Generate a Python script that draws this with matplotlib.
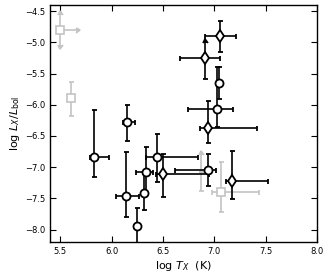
import matplotlib
matplotlib.use("Agg")
import matplotlib.pyplot as plt
import numpy as np

# Black circles: log T, log Lx/Lbol, xerr lo/hi, yerr lo/hi
circ_x = [5.83, 6.152, 6.142, 6.25, 6.318, 6.337, 6.445, 6.943, 7.03, 7.05]
circ_y = [-6.84, -6.279, -7.465, -7.946, -7.417, -7.08, -6.84, -7.048, -6.06, -5.654]
circ_xlo = [0.04, 0.04, 0.10, 0.03, 0.02, 0.10, 0.11, 0.33, 0.29, 0.02]
circ_xhi = [0.14, 0.08, 0.12, 0.03, 0.02, 0.07, 0.40, 0.07, 0.15, 0.02]
circ_ylo = [0.32, 0.30, 0.34, 0.45, 0.27, 0.35, 0.40, 0.25, 0.30, 0.26]
circ_yhi = [0.75, 0.27, 0.71, 0.29, 0.30, 0.40, 0.37, 0.26, 0.66, 0.26]

# Black diamonds
dia_x = [6.504, 6.914, 6.943, 7.06, 7.168]
dia_y = [-7.112, -5.253, -6.375, -4.90, -7.224]
dia_xlo = [0.07, 0.25, 0.08, 0.15, 0.05]
dia_xhi = [0.44, 0.14, 0.47, 0.15, 0.36]
dia_ylo = [0.37, 0.34, 0.24, 0.25, 0.29]
dia_yhi = [0.33, 0.0, 0.43, 0.25, 0.48]
# diamond with an upward (lower-limit) arrow
dia_lim_x = [6.914]
dia_lim_y = [-5.253]
dia_lim_up = [0.24]

# Grey squares
sq_x = [5.605, 7.07]
sq_y = [-5.894, -7.40]
sq_xlo = [0.0, 0.09]
sq_xhi = [0.0, 0.37]
sq_ylo = [0.28, 0.32]
sq_yhi = [0.26, 0.48]
# Grey square with limit arrows
sql_x = [5.50]
sql_y = [-4.80]
sql_up = [0.24]
sql_down = [0.245]
sql_right = [0.15]
# Grey lower-limit bar without visible marker
gl_x = [6.875]
gl_y = [-7.08]
gl_up = [0.27]
gl_down = [0.30]

grey = '#c4c4c4'

fig = plt.figure(figsize=(3.3, 2.75), dpi=100)
ax = fig.add_axes([0.1515, 0.12, 0.809, 0.862])

ekw = dict(elinewidth=1.2, capsize=1.8, capthick=1.2)

# grey elements
ax.errorbar(gl_x, gl_y, yerr=[gl_down, [0]], fmt='none', ecolor=grey, color=grey, **ekw)
ax.errorbar(gl_x, gl_y, yerr=[[0], gl_up], lolims=True, fmt='none', ecolor=grey, color=grey, **ekw)
ax.errorbar(sq_x, sq_y, xerr=[sq_xlo, sq_xhi], yerr=[sq_ylo, sq_yhi], fmt='s',
            ms=5.5, mfc='white', mec=grey, mew=1.2, ecolor=grey, color=grey, **ekw)
ax.errorbar(sql_x, sql_y, yerr=[[0], sql_up], lolims=True, fmt='none', ecolor=grey, color=grey, **ekw)
ax.errorbar(sql_x, sql_y, yerr=[sql_down, [0]], uplims=True, fmt='none', ecolor=grey, color=grey, **ekw)
ax.errorbar(sql_x, sql_y, xerr=[[0], sql_right], xlolims=True, fmt='s',
            ms=5.5, mfc='white', mec=grey, mew=1.2, ecolor=grey, color=grey, **ekw)

# black elements
ax.errorbar(dia_lim_x, dia_lim_y, yerr=[[0], dia_lim_up], lolims=True, fmt='none',
            ecolor='black', color='black', **ekw)
ax.errorbar(dia_x, dia_y, xerr=[dia_xlo, dia_xhi], yerr=[dia_ylo, dia_yhi], fmt='d',
            ms=6.5, mfc='white', mec='black', mew=1.3, ecolor='black', color='black', **ekw)
ax.errorbar(circ_x, circ_y, xerr=[circ_xlo, circ_xhi], yerr=[circ_ylo, circ_yhi], fmt='o',
            ms=5.8, mfc='white', mec='black', mew=1.3, ecolor='black', color='black', **ekw)

ax.set_xlim(5.4, 8.0)
ax.set_ylim(-8.2, -4.4)
ax.set_xticks(np.arange(5.5, 8.01, 0.5))
ax.set_yticks(np.arange(-8.0, -4.49, 0.5))
ax.tick_params(direction='in', top=True, right=True, length=4, width=0.8, labelsize=6)
for s in ax.spines.values():
    s.set_linewidth(1.0)
ax.set_xlabel(r'log $T_X$  (K)', fontsize=8, labelpad=2)
ax.set_ylabel(r'log $L_X/L_{\rm bol}$', fontsize=8, labelpad=2)

fig.savefig('out.png', dpi=100)
